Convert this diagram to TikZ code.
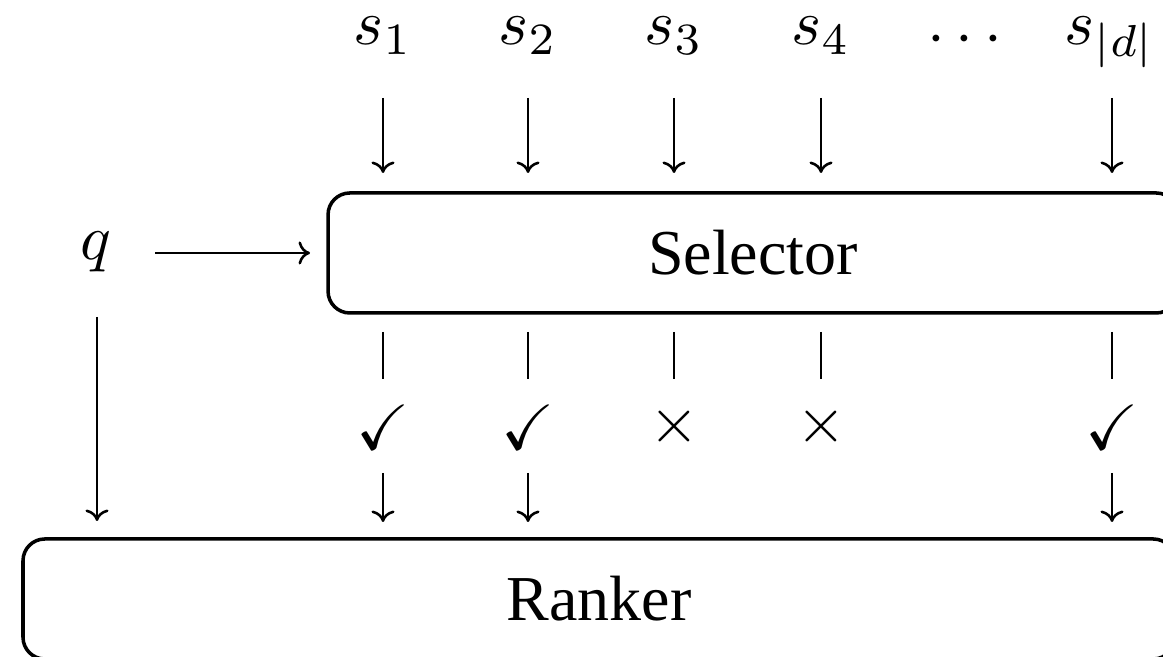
\documentclass[tikz,border=0pt]{standalone}
\usepackage{amsmath}
\usepackage{amssymb}
\usepackage{fontspec}
\setmainfont{Liberation Serif}
\usetikzlibrary{arrows.meta}

\begin{document}
\begin{tikzpicture}[x=0.15625pt, y=-0.15625pt,
  conn/.style={line width=0.4pt, -{To[length=1.8pt,width=3.6pt]}},
  bar/.style={line width=0.4pt},
  stage/.style={draw, line width=0.55pt, rounded corners=3.4pt,
    minimum height=18.75pt, inner sep=0pt},
  lbl/.style={inner sep=0pt, anchor=base},
  decision/.style={inner sep=0pt}]
\useasboundingbox (0,0) rectangle (1163,657);
\clip (0,0) rectangle (1163,657);

% inputs
\node[lbl] (s1) at (383,45) {$s_1$};
\node[lbl] (s2) at (528,45) {$s_2$};
\node[lbl] (s3) at (674,45) {$s_3$};
\node[lbl] (s4) at (821,45) {$s_4$};
\node[inner sep=0pt] (dots) at (970,40) {$\cdots$};
\node[lbl] (sd) at (1110,45) {$s_{\lvert d\rvert}$};
\node[lbl] (q) at (96,260) {$q$};

% stages
\node[stage, minimum width=132.8pt] (sel) at (753,253) {Selector};
\node[stage, minimum width=180pt] (rank) at (599,599) {Ranker};

% decisions
\node[decision] (c1) at (383,427) {$\checkmark$};
\node[decision] (c2) at (528,427) {$\checkmark$};
\node[decision] (x3) at (674,427) {$\times$};
\node[decision] (x4) at (821,427) {$\times$};
\node[decision] (cd) at (1112,427) {$\checkmark$};

% arrow end points
\foreach \n/\x in {1/383,2/528,3/674,4/821,d/1112}{
  \coordinate (in\n a) at (\x,98);
  \coordinate (in\n b) at (\x,173);
  \coordinate (out\n a) at (\x,332);
  \coordinate (out\n b) at (\x,379);
}
\foreach \n/\x in {1/383,2/528,d/1112}{
  \coordinate (keep\n a) at (\x,473);
  \coordinate (keep\n b) at (\x,522);
}
\coordinate (qa) at (155,253);
\coordinate (qb) at (310,253);
\coordinate (qc) at (97,317);
\coordinate (qd) at (97,521);

% connectors
\foreach \n in {1,2,3,4,d}{
  \draw[conn] (in\n a) -- (in\n b);
  \draw[bar] (out\n a) -- (out\n b);
}
\foreach \n in {1,2,d}{
  \draw[conn] (keep\n a) -- (keep\n b);
}
\draw[conn] (qa) -- (qb);
\draw[conn] (qc) -- (qd);
\end{tikzpicture}
\end{document}
